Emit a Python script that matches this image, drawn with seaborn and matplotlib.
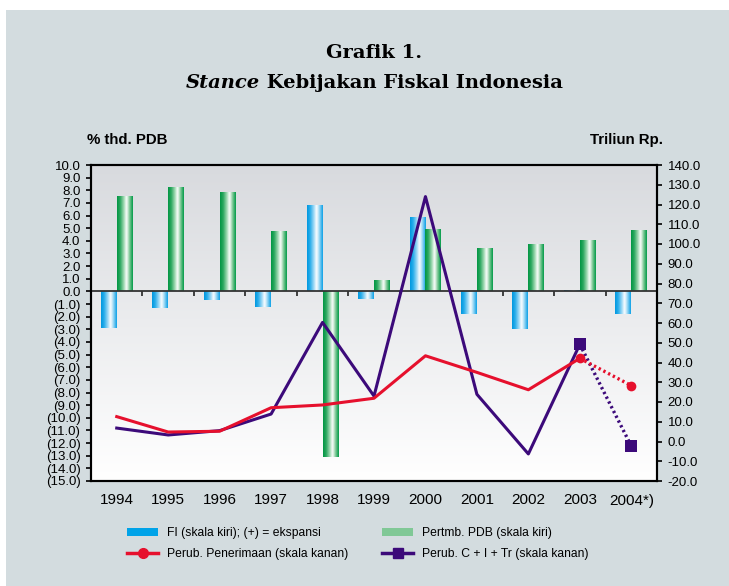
import numpy as np
import pandas as pd
import matplotlib
matplotlib.use('Agg')
import matplotlib.pyplot as plt
import seaborn as sns
from matplotlib.colors import LinearSegmentedColormap
from matplotlib.lines import Line2D
from matplotlib.patches import Patch, Rectangle

# data
years = ['1994', '1995', '1996', '1997', '1998', '1999', '2000', '2001', '2002', '2003', '2004*)']
fi = [-2.9, -1.3, -0.7, -1.2, 6.8, -0.6, 5.8, -1.8, -3.0, 0.05, -1.8]          # % PDB, left axis
pdb = [7.5, 8.2, 7.8, 4.7, -13.1, 0.8, 4.9, 3.4, 3.7, 4.0, 4.8]               # % , left axis
penerimaan = [12.6, 4.8, 5.2, 17.1, 18.5, 21.9, 43.4, 35.0, 26.2, 42.1, 28.3]  # Triliun Rp., right axis
cit = [6.8, 3.3, 5.5, 13.9, 60.3, 23.0, 124.0, 23.9, -6.3, 49.2, -2.3]        # Triliun Rp., right axis

left_ticks = np.arange(-15, 11)
right_ticks = np.arange(-20, 141, 10)

BLUE = '#14A3E8'
GREEN = '#0E9C4E'
RED = '#E6102D'
PURPLE = '#3C0A7A'
BG = '#D3DCDF'

plt.rcParams['font.family'] = ['Liberation Sans', 'DejaVu Sans']

W, H = 729, 586
fig = plt.figure(figsize=(W / 100, H / 100), dpi=100, facecolor='white')
fig.add_artist(Rectangle((6 / W, 0), 1, 1 - 10 / H, transform=fig.transFigure,
                         facecolor=BG, edgecolor='none', zorder=-10))

ax = fig.add_axes([91 / W, 105 / H, 566 / W, 316 / H])

# plot area background: light grey at top fading to white
bg_cmap = LinearSegmentedColormap.from_list('bg', ['#D8DADE', '#FFFFFF'])
ax.imshow(np.linspace(0, 1, 256).reshape(-1, 1), cmap=bg_cmap, extent=[0, 1, 0, 1],
          transform=ax.transAxes, aspect='auto', zorder=0)

idx = np.arange(len(years))
df = pd.DataFrame({'x': np.concatenate([idx, idx]),
                   'series': ['FI'] * len(years) + ['PDB'] * len(years),
                   'value': fi + pdb})
sns.barplot(data=df, x='x', y='value', hue='series', native_scale=True,
            palette=[BLUE, GREEN], width=0.62, saturation=1, errorbar=None,
            legend=False, ax=ax, zorder=2)

# cylinder-like shading on each bar
blue_cmap = LinearSegmentedColormap.from_list('b', [(0, '#0098E0'), (0.2, '#2AAEEB'), (0.45, '#A8DDF7'),
                                                   (0.6, '#FFFFFF'), (0.8, '#8FD3F3'), (1, '#0AA0E6')])
green_cmap = LinearSegmentedColormap.from_list('g', [(0, '#009543'), (0.2, '#2DA860'), (0.45, '#A9DDB9'),
                                                    (0.6, '#FFFFFF'), (0.8, '#7CC894'), (1, '#009A48')])
grad = np.linspace(0, 1, 64).reshape(1, -1)
for i, p in enumerate(list(ax.patches)):
    x0, y0, w, h = p.get_x(), p.get_y(), p.get_width(), p.get_height()
    cm = blue_cmap if i < len(years) else green_cmap
    ax.imshow(grad, cmap=cm, extent=[x0, x0 + w, min(y0, y0 + h), max(y0, y0 + h)],
              aspect='auto', zorder=2.5, interpolation='bicubic')
    p.set_visible(False)

ax.axhline(0, color='#333333', lw=1.3, zorder=3)
ax.vlines(idx[:-1] + 0.5, -0.35, 0, color='#333333', lw=1.3, zorder=3)

ax.set_xlim(-0.5, len(years) - 0.5)
ax.set_ylim(-15, 10)
ax.set_xticks(idx)
ax.set_xticklabels(years)
ax.set_yticks(left_ticks)
ax.set_yticklabels([f'{v:.1f}' if v >= 0 else f'({-v:.1f})' for v in left_ticks])
ax.set_xlabel('')
ax.set_ylabel('')
ax.tick_params(axis='x', length=0, pad=9, labelsize=11, colors='black')
ax.tick_params(axis='y', left=True, direction='out', length=3.6, width=1.2, pad=4,
               labelsize=9.5, colors='black')

# right axis lines
ax2 = ax.twinx()
sns.lineplot(x=idx[:10], y=cit[:10], ax=ax2, color=PURPLE, lw=2.2, zorder=4)
sns.lineplot(x=idx[9:], y=cit[9:], ax=ax2, color=PURPLE, lw=2.4, linestyle=(0, (0.7, 0.9)),
             marker='s', markersize=8, markeredgewidth=0, zorder=4)
sns.lineplot(x=idx[:10], y=penerimaan[:10], ax=ax2, color=RED, lw=2.2, zorder=5)
sns.lineplot(x=idx[9:], y=penerimaan[9:], ax=ax2, color=RED, lw=2.4, linestyle=(0, (0.7, 0.9)),
             marker='o', markersize=7, markeredgewidth=0, zorder=5)
ax2.set_ylim(-20, 140)
ax2.set_yticks(right_ticks)
ax2.set_yticklabels([f'{v:.1f}' for v in right_ticks])
ax2.set_ylabel('')
ax2.tick_params(axis='y', right=True, direction='out', length=3.6, width=1.2, pad=4,
                labelsize=9.5, colors='black')
ax.set_xlim(-0.5, len(years) - 0.5)

for a in (ax, ax2):
    for s in a.spines.values():
        s.set_color('black')
        s.set_linewidth(1.5)

# titles and axis captions
SERIF = 'DejaVu Serif'
r = fig.canvas.get_renderer()
t1 = fig.text(374 / W, 1 - 53 / H, 'Grafik 1.', ha='center', va='center', fontsize=14,
              fontweight='bold', family=SERIF)
y2 = 1 - 88 / H
ta = fig.text(0, y2, 'Stance', style='italic', fontweight='bold', fontsize=14,
              family=SERIF, va='baseline')
tb = fig.text(0, y2, ' Kebijakan Fiskal Indonesia', fontweight='bold', fontsize=14,
              family=SERIF, va='baseline')
# fit the second title line to the width seen in the original (~378 px)
scale = 378 / (ta.get_window_extent(r).width + tb.get_window_extent(r).width)
for t in (t1, ta, tb):
    t.set_fontsize(14 * scale)
wa = ta.get_window_extent(r).width
wb = tb.get_window_extent(r).width
x0 = 374 - (wa + wb) / 2
ta.set_x(x0 / W)
tb.set_x((x0 + wa) / W)

fig.text(87 / W, 1 - 140 / H, '% thd. PDB', ha='left', va='center', fontsize=10.8, fontweight='bold')
fig.text(663 / W, 1 - 140 / H, 'Triliun Rp.', ha='right', va='center', fontsize=10.8, fontweight='bold')

handles = [Patch(facecolor='#00A3E8'),
           Line2D([], [], color=RED, lw=2.5, marker='o', markersize=7),
           Patch(facecolor='#80C896'),
           Line2D([], [], color=PURPLE, lw=2.5, marker='s', markersize=7)]
labels = ['FI (skala kiri); (+) = ekspansi', 'Perub. Penerimaan (skala kanan)',
          'Pertmb. PDB (skala kiri)', 'Perub. C + I + Tr (skala kanan)']
fig.legend(handles, labels, ncol=2, loc='upper left', bbox_to_anchor=(127 / W, 1 - 527 / H),
           frameon=False, fontsize=8.7, handlelength=2.6, handletextpad=0.7,
           columnspacing=2.8, labelspacing=0.75, borderpad=0, borderaxespad=0)

fig.savefig('out.png', dpi=100, facecolor=fig.get_facecolor())
